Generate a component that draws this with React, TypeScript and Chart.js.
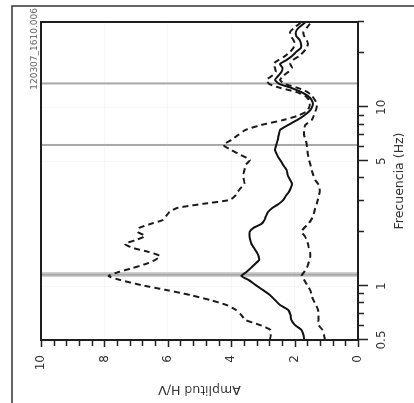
import React, { useEffect, useRef } from "react";
import { Chart, registerables } from "chart.js";

Chart.register(...registerables);

// Frequency (Hz) sampling of the H/V curves
const frequencies = [
  0.5, 0.533, 0.569, 0.607, 0.647, 0.69, 0.736, 0.785, 0.837, 0.893, 0.952, 1.015, 1.083,
  1.14, 1.2, 1.264, 1.33, 1.401, 1.475, 1.553, 1.635, 1.722, 1.813, 1.909, 2.01, 2.116,
  2.228, 2.346, 2.47, 2.601, 2.739, 2.884, 3.034, 3.194, 3.363, 3.541, 3.729, 3.926,
  4.186, 4.463, 4.758, 5.078, 5.415, 5.775, 6.158, 6.568, 7.004, 7.472, 7.968, 8.499,
  8.949, 9.422, 9.92, 10.44, 11.0, 11.58, 12.19, 12.84, 13.51, 14.23, 14.98, 15.77,
  16.61, 17.49, 18.41, 19.38, 20.41, 21.49, 22.62, 23.82, 25.08, 26.4, 27.8, 29.27, 30.0,
];

// Mean H/V amplitude
const meanHV = [
  1.7, 1.72, 1.78, 1.99, 2.1, 2.13, 2.2, 2.46, 2.62, 2.78, 3.0, 3.23, 3.45,
  3.68, 3.52, 3.38, 3.25, 3.12, 3.14, 3.2, 3.28, 3.36, 3.4, 3.42, 3.42, 3.3,
  3.05, 2.95, 2.9, 2.84, 2.7, 2.5, 2.36, 2.28, 2.18, 2.12, 2.08, 2.14,
  2.22, 2.25, 2.36, 2.46, 2.55, 2.62, 2.58, 2.53, 2.5, 2.46, 2.2, 1.92,
  1.72, 1.56, 1.46, 1.42, 1.46, 1.58, 1.8, 2.1, 2.48, 2.62, 2.52, 2.42,
  2.38, 2.46, 2.25, 2.08, 1.95, 1.8, 1.8, 1.84, 1.95, 1.96, 1.88, 1.72, 1.65,
];

// Mean x standard deviation
const upperHV = [
  2.78, 2.75, 2.76, 3.1, 3.55, 3.68, 3.85, 4.15, 4.67, 5.3, 6.05, 6.85, 7.5,
  7.87, 7.55, 7.1, 6.7, 6.4, 6.25, 6.6, 7.1, 7.35, 7.0, 6.72, 6.95, 6.9,
  6.55, 6.15, 6.05, 5.95, 5.7, 4.9, 4.05, 3.88, 3.8, 3.7, 3.58, 3.6,
  3.62, 3.58, 3.55, 3.41, 3.7, 4.0, 4.25, 4.0, 3.78, 3.55, 3.05, 2.35,
  1.92, 1.65, 1.55, 1.52, 1.55, 1.66, 1.95, 2.45, 2.8, 2.88, 2.72, 2.6,
  2.62, 2.67, 2.5, 2.3, 2.14, 2.04, 1.99, 2.04, 2.12, 2.14, 2.02, 1.86, 1.8,
];

// Mean / standard deviation
const lowerHV = [
  1.04, 1.07, 1.12, 1.25, 1.25, 1.25, 1.26, 1.33, 1.41, 1.46, 1.51, 1.6, 1.7,
  1.78, 1.7, 1.62, 1.57, 1.53, 1.51, 1.51, 1.55, 1.58, 1.62, 1.68, 1.78, 1.7,
  1.57, 1.48, 1.41, 1.38, 1.35, 1.3, 1.27, 1.24, 1.21, 1.22, 1.26, 1.35,
  1.41, 1.46, 1.5, 1.54, 1.58, 1.6, 1.62, 1.65, 1.7, 1.7, 1.66, 1.46,
  1.4, 1.35, 1.31, 1.3, 1.36, 1.45, 1.6, 1.9, 2.3, 2.46, 2.36, 2.2,
  2.08, 2.14, 2.05, 1.85, 1.72, 1.62, 1.58, 1.62, 1.7, 1.72, 1.62, 1.52, 1.48,
];

const freqTickValues = [0.5, 0.6, 0.7, 0.8, 0.9, 1, 2, 3, 4, 5, 6, 7, 8, 9, 10, 20, 30];
const freqTickLabels = [0.5, 1, 5, 10];
const ampLabelValues = [0, 2, 4, 6, 8, 10];
const ampMinorStep = 0.4;

const f0Peak = 1.16;
const f0Band = [1.125, 1.2];
const otherPeaks = [6.16, 13.6];
const recordId = "120307_1610.006";

const FONT = "'DejaVu Sans', 'Open Sans', sans-serif";

export default function App() {
  const canvasRef = useRef<HTMLCanvasElement | null>(null);

  useEffect(() => {
    const canvas = canvasRef.current;
    if (!canvas) return;

    const isFreqLabel = (v: number) => freqTickLabels.some((t) => Math.abs(t - v) < 1e-6);
    const isAmpLabel = (v: number) => ampLabelValues.some((t) => Math.abs(t - v) < 1e-6);

    const decorations = {
      id: "hvDecorations",
      beforeDatasetsDraw(chart: any) {
        const { ctx, chartArea, scales } = chart;
        const x = scales.x;
        ctx.save();
        // f0 band
        const b0 = x.getPixelForValue(f0Band[0]);
        const b1 = x.getPixelForValue(f0Band[1]);
        ctx.fillStyle = "rgba(170,170,170,0.55)";
        ctx.fillRect(b0, chartArea.top, b1 - b0, chartArea.bottom - chartArea.top);
        ctx.strokeStyle = "#a8a8a8";
        ctx.lineWidth = 2;
        const pc = x.getPixelForValue(f0Peak);
        ctx.beginPath();
        ctx.moveTo(pc, chartArea.top);
        ctx.lineTo(pc, chartArea.bottom);
        ctx.stroke();
        for (const p of otherPeaks) {
          const px = x.getPixelForValue(p);
          ctx.beginPath();
          ctx.moveTo(px, chartArea.top);
          ctx.lineTo(px, chartArea.bottom);
          ctx.stroke();
        }
        ctx.restore();
      },
      afterDraw(chart: any) {
        const { ctx, chartArea, scales } = chart;
        const { left, right, top, bottom } = chartArea;
        const x = scales.x;
        const y = scales.y;
        ctx.save();
        ctx.strokeStyle = "#222";
        ctx.lineWidth = 1.5;
        // frequency ticks
        for (const v of freqTickValues) {
          const px = Math.round(x.getPixelForValue(v)) + 0.5;
          const len = isFreqLabel(v) ? 10 : 6;
          ctx.beginPath();
          ctx.moveTo(px, bottom);
          ctx.lineTo(px, bottom + len);
          ctx.stroke();
        }
        // amplitude ticks
        for (const t of y.ticks) {
          const py = Math.round(y.getPixelForValue(t.value)) + 0.5;
          const len = isAmpLabel(t.value) ? 7 : 6;
          ctx.beginPath();
          ctx.moveTo(left, py);
          ctx.lineTo(left - len, py);
          ctx.stroke();
        }
        // plot frame
        ctx.lineWidth = 2;
        ctx.strokeStyle = "#1e1e1e";
        ctx.strokeRect(left, top, right - left, bottom - top);
        // outer frame
        ctx.lineWidth = 1.5;
        ctx.strokeStyle = "#333";
        ctx.beginPath();
        ctx.moveTo(0, 12);
        ctx.lineTo(397, 12);
        ctx.lineTo(397, chart.height);
        ctx.stroke();
        // record id
        ctx.fillStyle = "#666";
        ctx.font = `9px ${FONT}`;
        ctx.textAlign = "right";
        ctx.textBaseline = "middle";
        ctx.fillText(recordId, 395, 35);
        ctx.restore();
      },
    };

    const toPoints = (vals: number[]) => frequencies.map((f, i) => ({ x: f, y: vals[i] }));

    const chart = new Chart(canvas, {
      type: "line",
      data: {
        datasets: [
          {
            label: "H/V + σ",
            data: toPoints(upperHV),
            borderColor: "#1a1a1a",
            borderWidth: 2,
            borderDash: [6, 4],
            pointRadius: 0,
            tension: 0.2,
          },
          {
            label: "H/V",
            data: toPoints(meanHV),
            borderColor: "#111",
            borderWidth: 2,
            pointRadius: 0,
            tension: 0.2,
          },
          {
            label: "H/V - σ",
            data: toPoints(lowerHV),
            borderColor: "#1a1a1a",
            borderWidth: 2,
            borderDash: [6, 4],
            pointRadius: 0,
            tension: 0.2,
          },
        ],
      },
      plugins: [decorations],
      options: {
        animation: false,
        responsive: false,
        maintainAspectRatio: false,
        layout: { padding: { top: 41, right: 22, left: 0, bottom: 0 } },
        plugins: {
          legend: { display: false },
          tooltip: { enabled: false },
        },
        scales: {
          x: {
            type: "logarithmic",
            position: "bottom",
            min: 0.5,
            max: 30,
            afterFit: (s: any) => {
              s.height = 56;
            },
            afterBuildTicks: (s: any) => {
              s.ticks = freqTickValues.map((v) => ({ value: v }));
            },
            ticks: {
              autoSkip: false,
              maxRotation: 0,
              padding: 17,
              color: "#333",
              font: { size: 12, family: FONT },
              callback: (v: any) => (isFreqLabel(Number(v)) ? String(v) : ""),
            },
            grid: {
              drawTicks: false,
              color: (c: any) => (c.tick && isFreqLabel(c.tick.value) ? "rgba(0,0,0,0.03)" : "rgba(0,0,0,0)"),
            },
            border: { display: false },
            title: {
              display: true,
              text: "Frecuencia (Hz)",
              color: "#333",
              font: { size: 12.5, family: FONT },
              padding: { top: 0, bottom: 7 },
            },
          },
          y: {
            type: "linear",
            position: "left",
            min: 0,
            max: 10,
            afterFit: (s: any) => {
              s.width = 63;
            },
            afterBuildTicks: (s: any) => {
              const t = [];
              for (let i = 0; i <= 25; i++) t.push({ value: Math.round(i * ampMinorStep * 10) / 10 });
              s.ticks = t;
            },
            ticks: {
              autoSkip: false,
              padding: 15,
              color: "#333",
              font: { size: 12, family: FONT },
              callback: (v: any) => (isAmpLabel(Number(v)) ? String(v) : ""),
            },
            grid: {
              drawTicks: false,
              color: (c: any) => (c.tick && isAmpLabel(c.tick.value) ? "rgba(0,0,0,0.03)" : "rgba(0,0,0,0)"),
            },
            border: { display: false },
            title: {
              display: true,
              text: "Amplitud H/V",
              color: "#333",
              font: { size: 12.5, family: FONT },
              padding: { top: 6, bottom: 0 },
            },
          },
        },
      },
    } as any);

    return () => chart.destroy();
  }, []);

  return (
    <div
      style={{
        position: "fixed",
        left: 0,
        top: 0,
        width: 403,
        height: 414,
        background: "#fff",
        transformOrigin: "0 0",
        transform: "translate(0px, 403px) rotate(-90deg)",
      }}
    >
      <canvas ref={canvasRef} width={403} height={414} style={{ display: "block" }} />
    </div>
  );
}
